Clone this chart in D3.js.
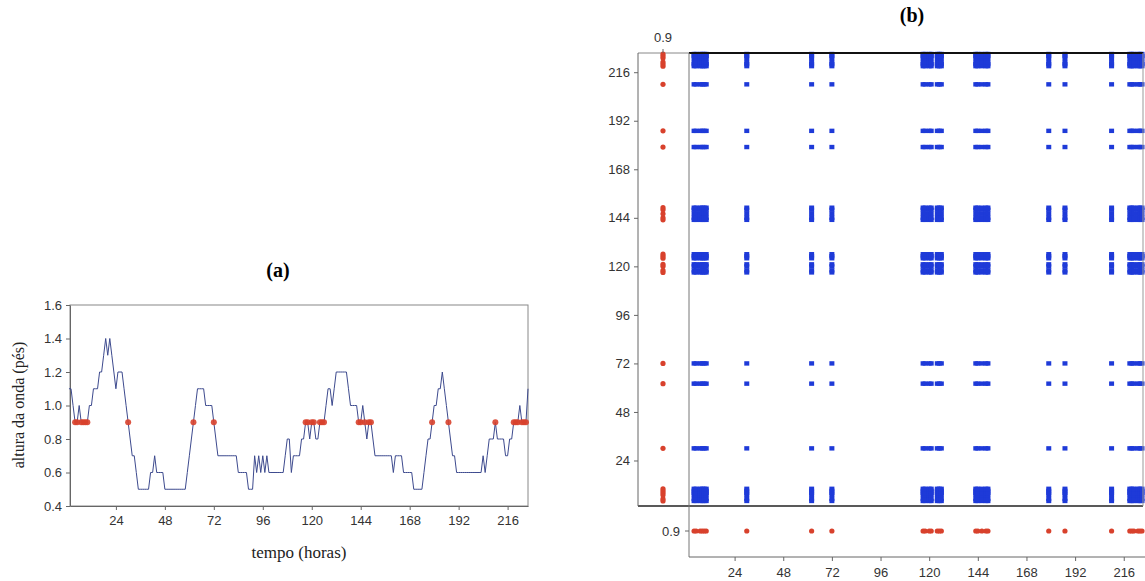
<!DOCTYPE html>
<html>
<head>
<meta charset="utf-8">
<script src="https://cdn.jsdelivr.net/npm/d3@7"></script>
<style>
  body { margin: 0; background: #fff; }
  svg { display: block; }
  .tick text { font-family: "Liberation Sans", Arial, sans-serif; font-size: 13px; fill: #333; }
  .tick line, .domain { stroke: #666; }
  .ttl { font-family: "Liberation Serif", "Times New Roman", serif; font-weight: bold; font-size: 20px; }
  .lbl { font-family: "Liberation Serif", "Times New Roman", serif; font-size: 16px; fill: #222; }
</style>
</head>
<body>
<svg id="chart" width="1145" height="581"></svg>
<script>
// hourly wave height (ft), hours 1..226
const hours = d3.range(1, 227)
const waveHeight = [
  1.1, 1.1, 1.0, 0.9, 0.9, 1.0, 0.9, 0.9, 0.9, 0.9,   // 1-10
  1.0, 1.0, 1.1, 1.1, 1.1, 1.2, 1.2, 1.3, 1.4, 1.3,   // 11-20
  1.4, 1.3, 1.2, 1.1, 1.2, 1.2, 1.2, 1.1, 1.0, 0.9,   // 21-30
  0.8, 0.7, 0.7, 0.6, 0.5, 0.5, 0.5, 0.5, 0.5, 0.5,   // 31-40
  0.6, 0.6, 0.7, 0.6, 0.6, 0.6, 0.6, 0.5, 0.5, 0.5,   // 41-50
  0.5, 0.5, 0.5, 0.5, 0.5, 0.5, 0.5, 0.5, 0.6, 0.7,   // 51-60
  0.8, 0.9, 1.0, 1.1, 1.1, 1.1, 1.1, 1.0, 1.0, 1.0,   // 61-70
  1.0, 0.9, 0.8, 0.7, 0.7, 0.7, 0.7, 0.7, 0.7, 0.7,   // 71-80
  0.7, 0.7, 0.7, 0.6, 0.6, 0.6, 0.6, 0.6, 0.5, 0.5,   // 81-90
  0.5, 0.7, 0.6, 0.7, 0.6, 0.7, 0.6, 0.7, 0.6, 0.6,   // 91-100
  0.6, 0.6, 0.6, 0.6, 0.6, 0.6, 0.7, 0.8, 0.8, 0.6,   // 101-110
  0.7, 0.7, 0.7, 0.7, 0.8, 0.8, 0.9, 0.9, 0.8, 0.9,   // 111-120
  0.9, 0.8, 0.8, 0.9, 0.9, 0.9, 1.0, 1.1, 1.1, 1.0,   // 121-130
  1.1, 1.2, 1.2, 1.2, 1.2, 1.2, 1.2, 1.1, 1.0, 1.0,   // 131-140
  1.0, 1.0, 0.9, 0.9, 1.0, 0.9, 0.8, 0.9, 0.9, 0.8,   // 141-150
  0.7, 0.7, 0.7, 0.7, 0.7, 0.7, 0.7, 0.7, 0.7, 0.6,   // 151-160
  0.7, 0.7, 0.7, 0.7, 0.6, 0.6, 0.6, 0.6, 0.6, 0.5,   // 161-170
  0.5, 0.5, 0.5, 0.5, 0.6, 0.7, 0.8, 0.8, 0.9, 1.0,   // 171-180
  1.0, 1.1, 1.1, 1.2, 1.1, 1.0, 0.9, 0.8, 0.7, 0.7,   // 181-190
  0.6, 0.6, 0.6, 0.6, 0.6, 0.6, 0.6, 0.6, 0.6, 0.6,   // 191-200
  0.6, 0.6, 0.6, 0.7, 0.6, 0.7, 0.8, 0.8, 0.8, 0.9,   // 201-210
  0.8, 0.8, 0.8, 0.8, 0.7, 0.7, 0.8, 0.8, 0.9, 0.9,   // 211-220
  0.9, 1.0, 0.9, 0.9, 0.9, 1.1                        // 221-226
]
const level = 0.9
const timeTicks = [24, 48, 72, 96, 120, 144, 168, 192, 216]
const heightTicks = [0.4, 0.6, 0.8, 1.0, 1.2, 1.4, 1.6]

const series = hours.map((h, i) => ({ h: h, v: waveHeight[i] }))
// hours at which the wave sits at the 0.9 ft level
const hits = series.filter(d => Math.abs(d.v - level) < 1e-6).map(d => d.h)

const svg = d3.select('#chart')
const red = '#d8412c'
const blue = '#1e3ad8'

// ---------- (a) time series ----------
const xA = d3.scaleLinear().domain([1.5, 226]).range([70, 528])
const yA = d3.scaleLinear().domain([0.4, 1.6]).range([506, 305])

const gA = svg.append('g')

gA.append('rect')
  .attr('x', 70).attr('y', 305)
  .attr('width', 458).attr('height', 201)
  .attr('fill', 'none').attr('stroke', '#888')

gA.append('g')
  .attr('transform', 'translate(0,506)')
  .call(d3.axisBottom(xA).tickValues(timeTicks).tickSize(4).tickSizeOuter(0).tickPadding(6))

gA.append('g')
  .attr('transform', 'translate(70,0)')
  .call(d3.axisLeft(yA).tickValues(heightTicks).tickFormat(d3.format('.1f')).tickSize(4).tickSizeOuter(0).tickPadding(4))

gA.append('path')
  .datum(series)
  .attr('fill', 'none')
  .attr('stroke', '#3d4a8e')
  .attr('stroke-width', 1)
  .attr('d', d3.line().x(d => xA(d.h)).y(d => yA(d.v)))

gA.selectAll('circle.hit')
  .data(hits)
  .join('circle')
  .attr('class', 'hit')
  .attr('cx', d => xA(d))
  .attr('cy', yA(level))
  .attr('r', 3)
  .attr('fill', red)
  .attr('fill-opacity', 0.9)

gA.append('text').attr('class', 'ttl')
  .attr('x', 278).attr('y', 277).attr('text-anchor', 'middle').text('(a)')

gA.append('text').attr('class', 'lbl')
  .attr('x', 299).attr('y', 558).attr('text-anchor', 'middle').style('font-size', '17px')
  .text('tempo (horas)')

gA.append('text').attr('class', 'lbl')
  .attr('transform', 'translate(24,405) rotate(-90)')
  .attr('text-anchor', 'middle')
  .text('altura da onda (pés)')

// ---------- (b) recurrence plot ----------
const xB = d3.scaleLinear().domain([1.5, 225.5]).range([689, 1143])
const yB = d3.scaleLinear().domain([1.5, 225.5]).range([506, 53])
const stripL = 638
const stripB = 557
const stripY = 531
const stripX = 663

const gB = svg.append('g')

// recurrence cells: every pair of level hits
const pairs = []
hits.forEach(a => hits.forEach(b => pairs.push({ a: a, b: b })))

gB.selectAll('rect.cell')
  .data(pairs)
  .join('rect')
  .attr('class', 'cell')
  .attr('x', d => xB(d.a) - 2.5)
  .attr('y', d => yB(d.b) - 2.2)
  .attr('width', 5)
  .attr('height', 4.4)
  .attr('fill', blue)

// frames
gB.append('line').attr('x1', stripL).attr('x2', 689).attr('y1', 53).attr('y2', 53)
  .attr('stroke', '#888')
gB.append('line').attr('x1', 689).attr('x2', 1143).attr('y1', 53).attr('y2', 53)
  .attr('stroke', '#111').attr('stroke-width', 2)
gB.append('line').attr('x1', stripL).attr('x2', 1143).attr('y1', 506).attr('y2', 506)
  .attr('stroke', '#222').attr('stroke-width', 1.6)
gB.append('line').attr('x1', 689).attr('x2', 689).attr('y1', 53).attr('y2', stripB)
  .attr('stroke', '#777')
gB.append('line').attr('x1', 1143).attr('x2', 1143).attr('y1', 53).attr('y2', 506)
  .attr('stroke', '#999')

gB.append('g')
  .attr('transform', `translate(0,${stripB})`)
  .call(d3.axisBottom(xB).tickValues(timeTicks).tickSize(4).tickSizeOuter(0).tickPadding(7))
  .call(g => g.select('.domain').attr('d', `M689,0H1145`))

gB.append('g')
  .attr('transform', `translate(${stripL},0)`)
  .call(d3.axisLeft(yB).tickValues(timeTicks).tickSize(4).tickSizeOuter(0).tickPadding(4))
  .call(g => g.select('.domain').attr('d', `M0,53V506`))

// level strips
gB.selectAll('circle.left')
  .data(hits)
  .join('circle')
  .attr('class', 'left')
  .attr('cx', stripX)
  .attr('cy', d => yB(d))
  .attr('r', 2.6)
  .attr('fill', red)

gB.selectAll('circle.bottom')
  .data(hits)
  .join('circle')
  .attr('class', 'bottom')
  .attr('cx', d => xB(d))
  .attr('cy', stripY)
  .attr('r', 2.6)
  .attr('fill', red)

gB.append('line').attr('x1', stripX).attr('x2', stripX).attr('y1', 49).attr('y2', 53).attr('stroke', '#666')
gB.append('text')
  .attr('x', stripX).attr('y', 42).attr('text-anchor', 'middle')
  .style('font-family', '"Liberation Sans", Arial, sans-serif').style('font-size', '13px').attr('fill', '#333')
  .text('0.9')

gB.append('line').attr('x1', 685).attr('x2', 689).attr('y1', stripY).attr('y2', stripY).attr('stroke', '#666')
gB.append('text')
  .attr('x', 680).attr('y', stripY).attr('dy', '0.35em').attr('text-anchor', 'end')
  .style('font-family', '"Liberation Sans", Arial, sans-serif').style('font-size', '13px').attr('fill', '#333')
  .text('0.9')

gB.append('text').attr('class', 'ttl')
  .attr('x', 912).attr('y', 22).attr('text-anchor', 'middle').text('(b)')
</script>
</body>
</html>
